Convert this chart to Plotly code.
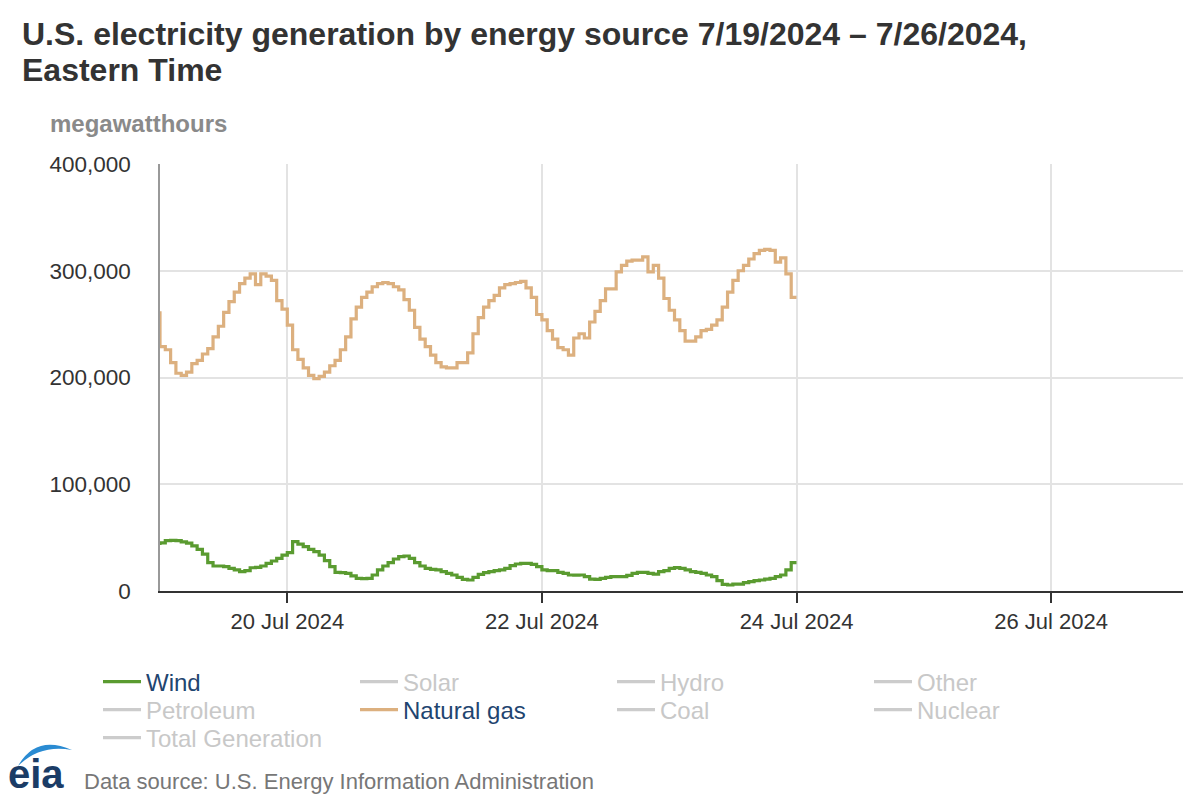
import pandas as pd
import plotly.graph_objects as go

# ---------------- data (hourly, Eastern Time) ----------------
start_time = "2024-07-19 00:00"
n_hours = 121

natural_gas = [
    262000,
    229000, 226000, 214000, 204000, 202000, 205000, 213000, 216000, 222000, 227000,
    238000, 248000, 261000, 271000, 280000, 288000, 293000, 297000, 287000, 297000,
    295000, 291000, 272000, 264000, 249000, 226000, 217000, 209000, 202000, 199000,
    201000, 205000, 211000, 216000, 226000, 238000, 255000, 266000, 275000, 280000,
    285000, 288000, 289000, 288000, 285000, 282000, 273000, 263000, 247000, 236000,
    229000, 221000, 214000, 210000, 209000, 209000, 214000, 214000, 223000, 241000,
    256000, 266000, 272000, 277000, 284000, 287000, 288000, 289000, 290000, 284000,
    275000, 259000, 254000, 244000, 236000, 228000, 226000, 221000, 237000, 241000,
    237000, 252000, 262000, 272000, 283000, 283000, 299000, 305000, 309000, 310000,
    310000, 313000, 299000, 305000, 293000, 274000, 263000, 254000, 244000, 234000,
    234000, 238000, 244000, 245000, 249000, 254000, 266000, 280000, 291000, 300000,
    305000, 311000, 316000, 319000, 320000, 319000, 308000, 312000, 297000, 275000,
]

wind = [
    43000,
    45000, 47100, 47500, 47100, 46000, 44800, 42200, 39000, 34500, 26500,
    23400, 23400, 22800, 21200, 19700, 18100, 19000, 21800, 22200, 23400,
    25900, 28100, 30600, 33700, 35900, 46200, 44000, 41500, 39000, 36800,
    33700, 28400, 22800, 17500, 17200, 16600, 14100, 11900, 11500, 11900,
    15000, 19700, 23400, 26500, 30000, 32200, 32800, 30600, 26500, 23400,
    21200, 20300, 19700, 18100, 16600, 15000, 12800, 10900, 10300, 12800,
    15600, 17200, 18100, 19000, 19700, 21200, 23700, 25300, 25900, 25900,
    25000, 22800, 19700, 19000, 19000, 17500, 16600, 15000, 14800, 15000,
    13400, 11200, 10900, 11900, 12800, 13400, 13400, 13400, 14700, 16600,
    17500, 17500, 16600, 15900, 18100, 19000, 21200, 21900, 21200, 19700,
    18100, 17500, 16600, 15000, 13400, 9700, 6200, 5600, 6500, 6500,
    7800, 8700, 9700, 10300, 11200, 11900, 13400, 15000, 19700, 26500,
]

legend_rows = [
    ["Wind", "Solar", "Hydro", "Other"],
    ["Petroleum", "Natural gas", "Coal", "Nuclear"],
    ["Total Generation"],
]
y_ticks = [0, 100000, 200000, 300000, 400000]
x_tick_start = "2024-07-20"
x_range = ["2024-07-19 00:00", "2024-07-27 00:52"]

# ---------------- styling ----------------
FONT = "Liberation Sans, Arial, sans-serif"
WIND_COLOR = "#5a9b30"
GAS_COLOR = "#dcb07f"
OFF_COLOR = "#cccccc"
ON_TEXT = "#1f4570"

hours = pd.date_range(start_time, periods=n_hours, freq="h")
series = {"Wind": wind, "Natural gas": natural_gas}
colors = {"Wind": WIND_COLOR, "Natural gas": GAS_COLOR}
legend_ids = ["legend", "legend2", "legend3"]

fig = go.Figure()
for row, names in enumerate(legend_rows):
    for name in names:
        if name in series:
            fig.add_trace(go.Scatter(
                x=hours, y=series[name], mode="lines", line_shape="vh",
                line=dict(color=colors[name], width=3.2),
                name=f'<span style="color:{ON_TEXT}">{name}</span>',
                legend=legend_ids[row], hoverinfo="skip",
            ))
        else:
            fig.add_trace(go.Scatter(
                x=[None], y=[None], mode="lines",
                line=dict(color=OFF_COLOR, width=3.2),
                name=f'<span style="color:#c8c8c8">{name}</span>',
                legend=legend_ids[row], hoverinfo="skip",
            ))

def px_to_paper(px, py):
    return (px - 160) / 1023.0, (591 - py) / 427.0

annos = []
for txt, py in [("U.S. electricity generation by energy source 7/19/2024 \u2013 7/26/2024,", 34),
                ("Eastern Time", 70)]:
    xp, yp = px_to_paper(20, py)
    annos.append(dict(text=f"<b>{txt}</b>", x=xp, y=yp, xref="paper", yref="paper",
                      xanchor="left", yanchor="middle", showarrow=False,
                      font=dict(family=FONT, size=32, color="#333333")))
xp, yp = px_to_paper(48, 124)
annos.append(dict(text="<b>megawatthours</b>", x=xp, y=yp, xref="paper", yref="paper",
                  xanchor="left", yanchor="middle", showarrow=False,
                  font=dict(family=FONT, size=24, color="#8a8a8a")))
xp, yp = px_to_paper(82, 781)
annos.append(dict(text="Data source: U.S. Energy Information Administration", x=xp, y=yp,
                  xref="paper", yref="paper", xanchor="left", yanchor="middle",
                  showarrow=False, font=dict(family=FONT, size=22, color="#777777")))
xp, yp = px_to_paper(6, 774)
annos.append(dict(text="<b>eia</b>", x=xp, y=yp, xref="paper", yref="paper",
                  xanchor="left", yanchor="middle", showarrow=False,
                  font=dict(family=FONT, size=40, color="#1b3c66")))

# EIA logo arc
p1 = px_to_paper(18, 766)
c1 = px_to_paper(36, 734)
p2 = px_to_paper(72, 750)
c2 = px_to_paper(40, 744)
arc_path = (f"M {p1[0]},{p1[1]} Q {c1[0]},{c1[1]} {p2[0]},{p2[1]} "
            f"Q {c2[0]},{c2[1]} {p1[0]},{p1[1]} Z")

legend_x = px_to_paper(98, 0)[0]
legend_common = dict(
    orientation="h", xref="paper", yref="paper",
    x=legend_x, xanchor="left", yanchor="middle",
    itemwidth=38, entrywidth=204, entrywidthmode="pixels",
    font=dict(family=FONT, size=24, color=ON_TEXT),
    bgcolor="rgba(0,0,0,0)", itemclick=False, itemdoubleclick=False,
)
row_centers = [682, 710, 738]
row_y = [px_to_paper(0, c)[1] for c in row_centers]

fig.update_layout(
    width=1200, height=800,
    margin=dict(l=160, r=17, t=164, b=209, pad=0, autoexpand=False),
    paper_bgcolor="white", plot_bgcolor="white",
    font=dict(family=FONT, size=22, color="#333333"),
    showlegend=True,
    legend=dict(legend_common, y=row_y[0]),
    legend2=dict(legend_common, y=row_y[1]),
    legend3=dict(legend_common, y=row_y[2]),
    annotations=annos,
    shapes=[dict(type="path", path=arc_path, xref="paper", yref="paper",
                 fillcolor="#2a8bd2", line=dict(width=0))],
    xaxis=dict(
        type="date", range=x_range,
        tick0=x_tick_start, dtick=2 * 86400000, tickformat="%d %b %Y",
        showgrid=True, gridcolor="#e3e3e3", gridwidth=1.5,
        showline=True, linecolor="#333333", linewidth=2,
        ticks="outside", ticklen=10, tickwidth=2, tickcolor="#333333",
        tickfont=dict(family=FONT, size=22, color="#333333"),
        zeroline=False, fixedrange=True,
    ),
    yaxis=dict(
        range=[0, 400000], tickvals=y_ticks, tickformat=",",
        showgrid=True, gridcolor="#e3e3e3", gridwidth=1.5,
        showline=True, linecolor="#999999", linewidth=1.5,
        ticks="", ticklabelstandoff=23,
        tickfont=dict(family=FONT, size=22.5, color="#333333"),
        zeroline=False, fixedrange=True,
    ),
)

fig.write_html("out.html", config={"displayModeBar": False},
               post_script="document.body.style.margin='0px';")
